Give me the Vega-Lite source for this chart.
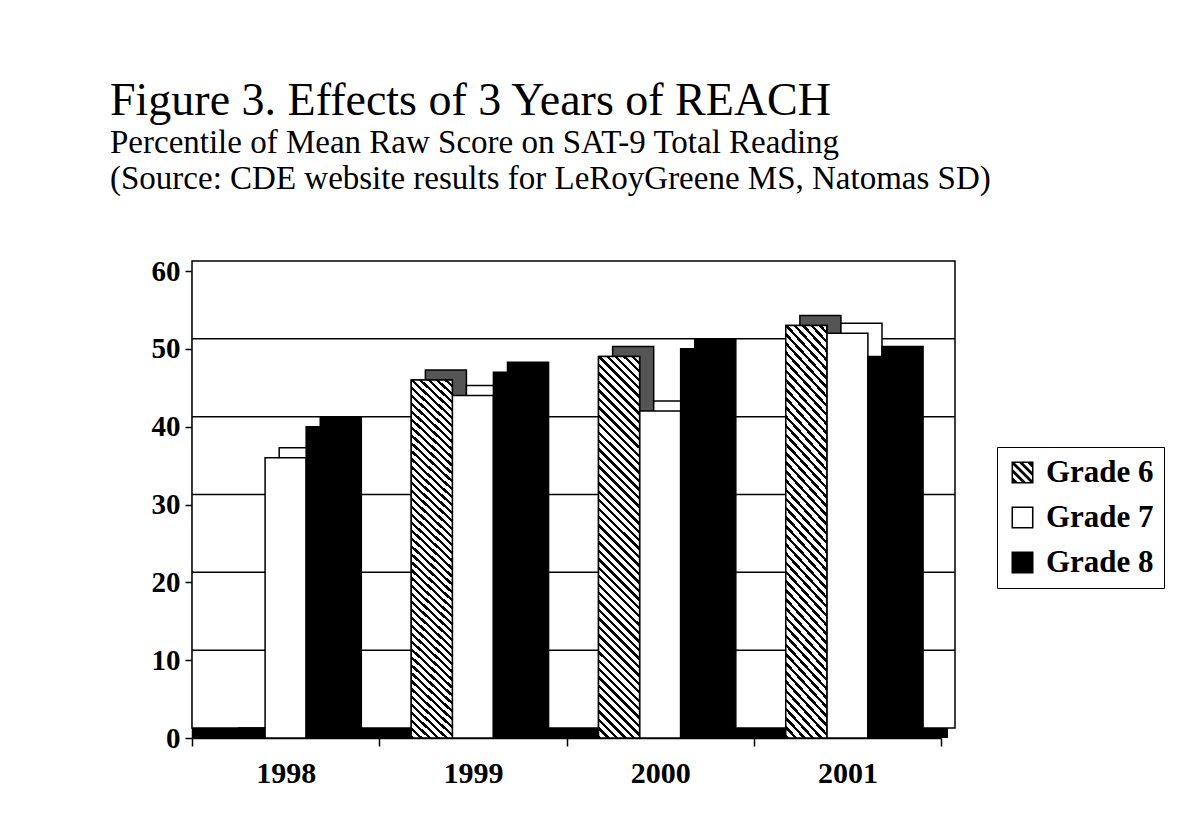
{
  "$schema": "https://vega.github.io/schema/vega-lite/v6.json",
  "width": 749,
  "height": 467,
  "autosize": {"type": "none"},
  "padding": {"left": 192, "top": 271, "right": 250, "bottom": 88},
  "background": "white",
  "title": {
    "text": "Figure 3. Effects of 3 Years of REACH",
    "subtitle": ["Percentile of Mean Raw Score on SAT-9 Total Reading", "(Source: CDE website results for LeRoyGreene MS, Natomas SD)"],
    "anchor": "start",
    "frame": "group",
    "dx": -82,
    "offset": 60,
    "font": "Liberation Serif",
    "fontSize": 46,
    "fontWeight": "normal",
    "color": "#000",
    "subtitleFont": "Liberation Serif",
    "subtitleFontSize": 33,
    "subtitleColor": "#000",
    "subtitlePadding": 2,
    "subtitleLineHeight": 36
  },
  "data": {
    "values": [
      {"year": "1998", "grade": "Grade 6", "value": 0},
      {"year": "1998", "grade": "Grade 7", "value": 36},
      {"year": "1998", "grade": "Grade 8", "value": 40},
      {"year": "1999", "grade": "Grade 6", "value": 46},
      {"year": "1999", "grade": "Grade 7", "value": 44},
      {"year": "1999", "grade": "Grade 8", "value": 47},
      {"year": "2000", "grade": "Grade 6", "value": 49},
      {"year": "2000", "grade": "Grade 7", "value": 42},
      {"year": "2000", "grade": "Grade 8", "value": 50},
      {"year": "2001", "grade": "Grade 6", "value": 53},
      {"year": "2001", "grade": "Grade 7", "value": 52},
      {"year": "2001", "grade": "Grade 8", "value": 49}
    ]
  },
  "layer": [
    {
      "data": {"values": [{"wall": "back"}]},
      "mark": {"type": "rect", "fill": "#fff", "stroke": "#000", "strokeWidth": 1.5, "xOffset": 14, "x2Offset": 14, "yOffset": -10, "y2Offset": -10},
      "encoding": {
        "y": {"datum": 0, "type": "quantitative", "scale": {"domain": [0, 60], "nice": false}},
        "y2": {"datum": 60}
      }
    },
    {
      "data": {"values": [{"g": 10}, {"g": 20}, {"g": 30}, {"g": 40}, {"g": 50}]},
      "mark": {"type": "rule", "stroke": "#000", "strokeWidth": 1.5, "xOffset": 14, "x2Offset": 14, "yOffset": -10},
      "encoding": {
        "y": {"field": "g", "type": "quantitative", "title": null}
      }
    },
    {
      "data": {"values": [{"floor": "base"}]},
      "mark": {"type": "rect", "fill": "#000", "xOffset": 7, "x2Offset": 7},
      "encoding": {
        "y": {"datum": 0, "type": "quantitative"},
        "y2": {"datum": 1.3}
      }
    },
    {
      "mark": {"type": "bar", "stroke": "#000", "strokeWidth": 1.5, "yOffset": -10, "y2Offset": -10},
      "encoding": {
        "x": {"field": "year", "type": "nominal", "title": null, "scale": {"paddingInner": 0, "paddingOuter": 0}},
        "xOffset": {"field": "grade", "type": "nominal", "scale": {"domain": ["Grade 6", "Grade 7", "Grade 8"], "paddingInner": 0, "paddingOuter": 0.78, "align": 0.72}},
        "y": {"field": "value", "type": "quantitative", "title": null},
        "fill": {
          "condition": [
            {"test": "datum.grade === 'Grade 6'", "value": "#555555"},
            {"test": "datum.grade === 'Grade 7'", "value": "#ffffff"}
          ],
          "value": "#000000"
        }
      }
    },
    {
      "mark": {"type": "bar", "stroke": "#000", "strokeWidth": 1.5},
      "encoding": {
        "x": {"field": "year", "type": "nominal", "title": null, "scale": {"paddingInner": 0, "paddingOuter": 0}},
        "xOffset": {"field": "grade", "type": "nominal", "scale": {"domain": ["Grade 6", "Grade 7", "Grade 8"], "paddingInner": 0, "paddingOuter": 0.78, "align": 0.5}},
        "y": {"field": "value", "type": "quantitative", "title": null},
        "fill": {
          "condition": [
            {"test": "datum.grade === 'Grade 6'", "value": "#555555"},
            {"test": "datum.grade === 'Grade 7'", "value": "#ffffff"}
          ],
          "value": "#000000"
        }
      }
    },
    {
      "transform": [{"filter": "datum.grade === 'Grade 6'"}],
      "mark": {"type": "bar", "stroke": "#000", "strokeWidth": 1.5, "fill": {"gradient": "linear", "x1": 0, "y1": 1, "x2": 0.1177, "y2": -0.0947, "stops": [
        {"offset": 0, "color": "#000"}, {"offset": 0.008, "color": "#000"}, {"offset": 0.008, "color": "#fff"}, {"offset": 0.02, "color": "#fff"},
        {"offset": 0.02, "color": "#000"}, {"offset": 0.028, "color": "#000"}, {"offset": 0.028, "color": "#fff"}, {"offset": 0.04, "color": "#fff"},
        {"offset": 0.04, "color": "#000"}, {"offset": 0.048, "color": "#000"}, {"offset": 0.048, "color": "#fff"}, {"offset": 0.06, "color": "#fff"},
        {"offset": 0.06, "color": "#000"}, {"offset": 0.068, "color": "#000"}, {"offset": 0.068, "color": "#fff"}, {"offset": 0.08, "color": "#fff"},
        {"offset": 0.08, "color": "#000"}, {"offset": 0.088, "color": "#000"}, {"offset": 0.088, "color": "#fff"}, {"offset": 0.1, "color": "#fff"},
        {"offset": 0.1, "color": "#000"}, {"offset": 0.108, "color": "#000"}, {"offset": 0.108, "color": "#fff"}, {"offset": 0.12, "color": "#fff"},
        {"offset": 0.12, "color": "#000"}, {"offset": 0.128, "color": "#000"}, {"offset": 0.128, "color": "#fff"}, {"offset": 0.14, "color": "#fff"},
        {"offset": 0.14, "color": "#000"}, {"offset": 0.148, "color": "#000"}, {"offset": 0.148, "color": "#fff"}, {"offset": 0.16, "color": "#fff"},
        {"offset": 0.16, "color": "#000"}, {"offset": 0.168, "color": "#000"}, {"offset": 0.168, "color": "#fff"}, {"offset": 0.18, "color": "#fff"},
        {"offset": 0.18, "color": "#000"}, {"offset": 0.188, "color": "#000"}, {"offset": 0.188, "color": "#fff"}, {"offset": 0.2, "color": "#fff"},
        {"offset": 0.2, "color": "#000"}, {"offset": 0.208, "color": "#000"}, {"offset": 0.208, "color": "#fff"}, {"offset": 0.22, "color": "#fff"},
        {"offset": 0.22, "color": "#000"}, {"offset": 0.228, "color": "#000"}, {"offset": 0.228, "color": "#fff"}, {"offset": 0.24, "color": "#fff"},
        {"offset": 0.24, "color": "#000"}, {"offset": 0.248, "color": "#000"}, {"offset": 0.248, "color": "#fff"}, {"offset": 0.26, "color": "#fff"},
        {"offset": 0.26, "color": "#000"}, {"offset": 0.268, "color": "#000"}, {"offset": 0.268, "color": "#fff"}, {"offset": 0.28, "color": "#fff"},
        {"offset": 0.28, "color": "#000"}, {"offset": 0.288, "color": "#000"}, {"offset": 0.288, "color": "#fff"}, {"offset": 0.3, "color": "#fff"},
        {"offset": 0.3, "color": "#000"}, {"offset": 0.308, "color": "#000"}, {"offset": 0.308, "color": "#fff"}, {"offset": 0.32, "color": "#fff"},
        {"offset": 0.32, "color": "#000"}, {"offset": 0.328, "color": "#000"}, {"offset": 0.328, "color": "#fff"}, {"offset": 0.34, "color": "#fff"},
        {"offset": 0.34, "color": "#000"}, {"offset": 0.348, "color": "#000"}, {"offset": 0.348, "color": "#fff"}, {"offset": 0.36, "color": "#fff"},
        {"offset": 0.36, "color": "#000"}, {"offset": 0.368, "color": "#000"}, {"offset": 0.368, "color": "#fff"}, {"offset": 0.38, "color": "#fff"},
        {"offset": 0.38, "color": "#000"}, {"offset": 0.388, "color": "#000"}, {"offset": 0.388, "color": "#fff"}, {"offset": 0.4, "color": "#fff"},
        {"offset": 0.4, "color": "#000"}, {"offset": 0.408, "color": "#000"}, {"offset": 0.408, "color": "#fff"}, {"offset": 0.42, "color": "#fff"},
        {"offset": 0.42, "color": "#000"}, {"offset": 0.428, "color": "#000"}, {"offset": 0.428, "color": "#fff"}, {"offset": 0.44, "color": "#fff"},
        {"offset": 0.44, "color": "#000"}, {"offset": 0.448, "color": "#000"}, {"offset": 0.448, "color": "#fff"}, {"offset": 0.46, "color": "#fff"},
        {"offset": 0.46, "color": "#000"}, {"offset": 0.468, "color": "#000"}, {"offset": 0.468, "color": "#fff"}, {"offset": 0.48, "color": "#fff"},
        {"offset": 0.48, "color": "#000"}, {"offset": 0.488, "color": "#000"}, {"offset": 0.488, "color": "#fff"}, {"offset": 0.5, "color": "#fff"},
        {"offset": 0.5, "color": "#000"}, {"offset": 0.508, "color": "#000"}, {"offset": 0.508, "color": "#fff"}, {"offset": 0.52, "color": "#fff"},
        {"offset": 0.52, "color": "#000"}, {"offset": 0.528, "color": "#000"}, {"offset": 0.528, "color": "#fff"}, {"offset": 0.54, "color": "#fff"},
        {"offset": 0.54, "color": "#000"}, {"offset": 0.548, "color": "#000"}, {"offset": 0.548, "color": "#fff"}, {"offset": 0.56, "color": "#fff"},
        {"offset": 0.56, "color": "#000"}, {"offset": 0.568, "color": "#000"}, {"offset": 0.568, "color": "#fff"}, {"offset": 0.58, "color": "#fff"},
        {"offset": 0.58, "color": "#000"}, {"offset": 0.588, "color": "#000"}, {"offset": 0.588, "color": "#fff"}, {"offset": 0.6, "color": "#fff"},
        {"offset": 0.6, "color": "#000"}, {"offset": 0.608, "color": "#000"}, {"offset": 0.608, "color": "#fff"}, {"offset": 0.62, "color": "#fff"},
        {"offset": 0.62, "color": "#000"}, {"offset": 0.628, "color": "#000"}, {"offset": 0.628, "color": "#fff"}, {"offset": 0.64, "color": "#fff"},
        {"offset": 0.64, "color": "#000"}, {"offset": 0.648, "color": "#000"}, {"offset": 0.648, "color": "#fff"}, {"offset": 0.66, "color": "#fff"},
        {"offset": 0.66, "color": "#000"}, {"offset": 0.668, "color": "#000"}, {"offset": 0.668, "color": "#fff"}, {"offset": 0.68, "color": "#fff"},
        {"offset": 0.68, "color": "#000"}, {"offset": 0.688, "color": "#000"}, {"offset": 0.688, "color": "#fff"}, {"offset": 0.7, "color": "#fff"},
        {"offset": 0.7, "color": "#000"}, {"offset": 0.708, "color": "#000"}, {"offset": 0.708, "color": "#fff"}, {"offset": 0.72, "color": "#fff"},
        {"offset": 0.72, "color": "#000"}, {"offset": 0.728, "color": "#000"}, {"offset": 0.728, "color": "#fff"}, {"offset": 0.74, "color": "#fff"},
        {"offset": 0.74, "color": "#000"}, {"offset": 0.748, "color": "#000"}, {"offset": 0.748, "color": "#fff"}, {"offset": 0.76, "color": "#fff"},
        {"offset": 0.76, "color": "#000"}, {"offset": 0.768, "color": "#000"}, {"offset": 0.768, "color": "#fff"}, {"offset": 0.78, "color": "#fff"},
        {"offset": 0.78, "color": "#000"}, {"offset": 0.788, "color": "#000"}, {"offset": 0.788, "color": "#fff"}, {"offset": 0.8, "color": "#fff"},
        {"offset": 0.8, "color": "#000"}, {"offset": 0.808, "color": "#000"}, {"offset": 0.808, "color": "#fff"}, {"offset": 0.82, "color": "#fff"},
        {"offset": 0.82, "color": "#000"}, {"offset": 0.828, "color": "#000"}, {"offset": 0.828, "color": "#fff"}, {"offset": 0.84, "color": "#fff"},
        {"offset": 0.84, "color": "#000"}, {"offset": 0.848, "color": "#000"}, {"offset": 0.848, "color": "#fff"}, {"offset": 0.86, "color": "#fff"},
        {"offset": 0.86, "color": "#000"}, {"offset": 0.868, "color": "#000"}, {"offset": 0.868, "color": "#fff"}, {"offset": 0.88, "color": "#fff"},
        {"offset": 0.88, "color": "#000"}, {"offset": 0.888, "color": "#000"}, {"offset": 0.888, "color": "#fff"}, {"offset": 0.9, "color": "#fff"},
        {"offset": 0.9, "color": "#000"}, {"offset": 0.908, "color": "#000"}, {"offset": 0.908, "color": "#fff"}, {"offset": 0.92, "color": "#fff"},
        {"offset": 0.92, "color": "#000"}, {"offset": 0.928, "color": "#000"}, {"offset": 0.928, "color": "#fff"}, {"offset": 0.94, "color": "#fff"},
        {"offset": 0.94, "color": "#000"}, {"offset": 0.948, "color": "#000"}, {"offset": 0.948, "color": "#fff"}, {"offset": 0.96, "color": "#fff"},
        {"offset": 0.96, "color": "#000"}, {"offset": 0.968, "color": "#000"}, {"offset": 0.968, "color": "#fff"}, {"offset": 0.98, "color": "#fff"},
        {"offset": 0.98, "color": "#000"}, {"offset": 0.988, "color": "#000"}, {"offset": 0.988, "color": "#fff"}, {"offset": 1, "color": "#fff"}
      ]}},
      "encoding": {
        "x": {"field": "year", "type": "nominal", "title": null, "scale": {"paddingInner": 0, "paddingOuter": 0}},
        "xOffset": {"field": "grade", "type": "nominal", "scale": {"domain": ["Grade 6", "Grade 7", "Grade 8"], "paddingInner": 0, "paddingOuter": 0.78, "align": 0.5}},
        "y": {"field": "value", "type": "quantitative", "title": null}
      }
    },
    {
      "mark": {"type": "point", "filled": true, "fill": "#000", "color": "#000", "opacity": 0, "strokeWidth": 0},
      "encoding": {
        "x": {"field": "year", "type": "nominal", "title": null, "scale": {"paddingInner": 0, "paddingOuter": 0}},
        "y": {"field": "value", "type": "quantitative", "title": null},
        "shape": {
          "field": "grade", "type": "nominal",
          "scale": {"domain": ["Grade 6", "Grade 7", "Grade 8"], "range": [
            "M-1,-1L1,-1L1,1L-1,1Z M-0.86,-0.86L-0.86,0.86L0.86,0.86L0.86,-0.86Z M-1,-1L-0.82,-1L1,0.82L1,1L0.82,1L-1,-0.82Z M-0.43,-1L-0.07,-1L1,0.07L1,0.43Z M0.32,-1L0.68,-1L1,-0.68L1,-0.32Z M-1,-0.43L0.43,1L0.07,1L-1,-0.07Z M-1,0.32L-0.32,1L-0.68,1L-1,0.68Z",
            "M-1,-1L1,-1L1,1L-1,1Z M-0.86,-0.86L-0.86,0.86L0.86,0.86L0.86,-0.86Z",
            "square"
          ]},
          "legend": {
            "title": null,
            "orient": "none",
            "legendX": 805,
            "legendY": 176,
            "symbolSize": 484,
            "symbolOpacity": 1,
            "symbolFillColor": "#000",
            "symbolStrokeWidth": 0,
            "labelFont": "Liberation Serif",
            "labelFontSize": 31,
            "labelFontWeight": "bold",
            "labelColor": "#000",
            "labelOffset": 8,
            "rowPadding": 13,
            "padding": 10,
            "strokeColor": "#000",
            "fillColor": "#fff",
            "cornerRadius": 0
          }
        }
      }
    }
  ],
  "resolve": {"scale": {"xOffset": "independent"}},
  "config": {
    "font": "Liberation Serif",
    "view": {"stroke": null},
    "axisY": {"tickCount": 6, "grid": false, "labelFont": "Liberation Serif", "labelFontSize": 29, "labelFontWeight": "bold", "labelColor": "#000", "tickColor": "#000", "domainColor": "#000", "tickSize": 7, "labelPadding": 5, "domainWidth": 1.5, "tickWidth": 1.5},
    "axisX": {"labelAngle": 0, "grid": false, "labelFont": "Liberation Serif", "labelFontSize": 30, "labelFontWeight": "bold", "labelColor": "#000", "tickColor": "#000", "domainColor": "#000", "tickSize": 8, "labelPadding": 12, "tickBand": "extent", "domainWidth": 1.5, "tickWidth": 1.5}
  }
}
